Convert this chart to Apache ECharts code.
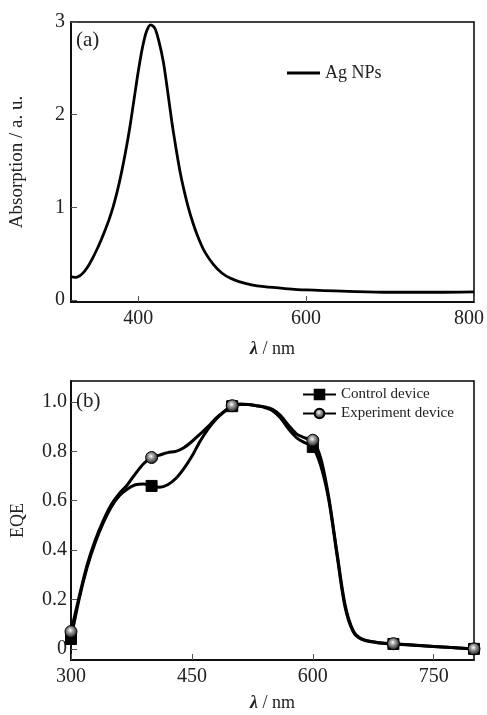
<!DOCTYPE html>
<html>
<head>
<meta charset="utf-8">
<script src="https://cdn.jsdelivr.net/npm/echarts@6/dist/echarts.min.js"></script>
<style>html,body{margin:0;padding:0;background:#fff;}#c{width:487px;height:715px;}</style>
</head>
<body>
<div id="c"></div>
<script>
// (a) Ag NPs absorption
const absWavelengths = [320,325,330,335,340,345,350,355,360,365,370,375,380,385,390,395,400,405,410,415,420,425,430,435,440,445,450,455,460,465,470,475,480,490,500,510,520,535,550,575,600,650,700,750,800];
const absValues      = [0.25,0.245,0.26,0.30,0.36,0.44,0.53,0.63,0.74,0.86,1.0,1.17,1.37,1.6,1.86,2.16,2.46,2.72,2.9,2.97,2.93,2.78,2.57,2.26,1.93,1.64,1.38,1.17,0.99,0.84,0.71,0.6,0.51,0.38,0.29,0.235,0.2,0.165,0.145,0.125,0.11,0.095,0.085,0.085,0.09];
const absXTicks = [400,600,800];
const absYTicks = [0,1,2,3];

// (b) EQE
const eqeWavelengths = [300,310,320,330,340,350,360,370,380,390,400,410,420,430,440,450,460,470,480,490,500,510,520,530,540,550,560,570,580,590,600,610,620,630,640,650,660,680,700,750,800];
const controlEQE     = [0.04,0.2,0.33,0.43,0.51,0.575,0.62,0.648,0.665,0.668,0.66,0.655,0.665,0.69,0.73,0.78,0.84,0.89,0.93,0.96,0.983,0.99,0.99,0.985,0.978,0.965,0.935,0.89,0.855,0.835,0.818,0.74,0.6,0.38,0.17,0.07,0.04,0.025,0.02,0.01,0.0];
const experimentEQE  = [0.07,0.21,0.34,0.44,0.52,0.585,0.63,0.665,0.71,0.75,0.775,0.785,0.795,0.80,0.815,0.84,0.87,0.9,0.935,0.962,0.985,0.992,0.99,0.985,0.98,0.97,0.945,0.905,0.87,0.855,0.845,0.77,0.61,0.39,0.18,0.075,0.042,0.026,0.021,0.01,0.0];
const eqeMarkerWavelengths = [300,400,500,600,700,800];
const eqeXTicks = [300,450,600,750];
const eqeYTicks = [0,0.2,0.4,0.6,0.8,1.0];

const FONT = '"Liberation Serif", "DejaVu Serif", serif';
const markerSet = new Set(eqeMarkerWavelengths);
function toData(vals){
  return eqeWavelengths.map((w,i)=> markerSet.has(w) ? [w, vals[i]] : {value:[w, vals[i]], symbol:'none'});
}
const chart = echarts.init(document.getElementById('c'), null, {renderer:'canvas'});
const axisLabel = {color:'#222', fontFamily:FONT, fontSize:20};
const tick = {inside:true, length:6, lineStyle:{color:'#555', width:1}};
const nameStyle = {fontFamily:FONT, fontSize:18, color:'#222', rich:{i:{fontStyle:'italic', fontWeight:'bold', fontFamily:FONT, fontSize:18}}};
const option = {
  animation:false,
  backgroundColor:'#fff',
  grid:[
    {left:71, top:22, width:403, height:280, show:true, borderColor:'#000', borderWidth:1.5, backgroundColor:'transparent', outerBoundsMode:'none', containLabel:false},
    {left:71, top:381, width:403, height:279, show:true, borderColor:'#000', borderWidth:1.5, backgroundColor:'transparent', outerBoundsMode:'none', containLabel:false}
  ],
  xAxis:[
    {type:'value', gridIndex:0, min:320, max:800,
     axisLine:{onZero:false, lineStyle:{color:'#000', width:1.5}},
     axisTick:Object.assign({customValues:absXTicks}, tick),
     axisLabel:Object.assign({customValues:absXTicks, margin:7,
       formatter:v=> v===800 ? '{r|800}' : String(v),
       rich:{r:{fontFamily:FONT, fontSize:20, color:'#222', padding:[0,10,0,0]}}}, axisLabel),
     splitLine:{show:false},
     name:'{i|λ} / nm', nameLocation:'middle', nameGap:38, nameTextStyle:nameStyle
    },
    {type:'value', gridIndex:1, min:300, max:800,
     axisLine:{onZero:false, lineStyle:{color:'#000', width:1.5}},
     axisTick:Object.assign({customValues:eqeXTicks}, tick),
     axisLabel:Object.assign({customValues:eqeXTicks, margin:7}, axisLabel),
     splitLine:{show:false},
     name:'{i|λ} / nm', nameLocation:'middle', nameGap:34, nameTextStyle:nameStyle
    }
  ],
  yAxis:[
    {type:'value', gridIndex:0, min:-0.02, max:3,
     axisLine:{show:true, onZero:false, lineStyle:{color:'#000', width:1.5}},
     axisTick:Object.assign({customValues:absYTicks}, tick),
     axisLabel:Object.assign({customValues:absYTicks, margin:6}, axisLabel),
     splitLine:{show:false},
     name:'Absorption / a. u.', nameLocation:'middle', nameGap:44, nameRotate:90,
     nameTextStyle:{fontFamily:FONT, fontSize:19, color:'#222'}
    },
    {type:'value', gridIndex:1, min:-0.045, max:1.085,
     axisLine:{show:true, onZero:false, lineStyle:{color:'#000', width:1.5}},
     axisTick:Object.assign({customValues:eqeYTicks}, tick),
     axisLabel:Object.assign({customValues:eqeYTicks, margin:4, formatter:v=> v===0?'0':v.toFixed(1)}, axisLabel),
     splitLine:{show:false},
     name:'EQE', nameLocation:'middle', nameGap:44, nameRotate:90,
     nameTextStyle:{fontFamily:FONT, fontSize:18, color:'#222'}
    }
  ],
  legend:[
    {data:[{name:'Ag NPs', icon:'rect'}], left:287, top:64, padding:0, orient:'vertical', itemWidth:33, itemHeight:3, itemGap:6,
     textStyle:{fontFamily:FONT, fontSize:18, color:'#222'}},
    {data:['Control device','Experiment device'], left:302, top:387, padding:0, orient:'vertical', itemWidth:33, itemHeight:12, itemGap:4,
     textStyle:{fontFamily:FONT, fontSize:15, color:'#222'}}
  ],
  graphic:[
    {type:'text', left:76, top:30, style:{text:'(a)', fontFamily:FONT, fontSize:21, fill:'#222'}},
    {type:'text', left:76, top:391, style:{text:'(b)', fontFamily:FONT, fontSize:21, fill:'#222'}}
  ],
  series:[
    {name:'Ag NPs', type:'line', xAxisIndex:0, yAxisIndex:0, smooth:0.3, symbol:'none',
     data:absWavelengths.map((w,i)=>[w, absValues[i]]),
     lineStyle:{color:'#000', width:2.8}, itemStyle:{color:'#000'}},
    {name:'Control device', type:'line', xAxisIndex:1, yAxisIndex:1, smooth:0.3,
     symbol:'rect', symbolSize:11, showSymbol:true,
     data:toData(controlEQE),
     lineStyle:{color:'#000', width:3}, itemStyle:{color:'#000', borderColor:'#000', borderWidth:1}},
    {name:'Experiment device', type:'line', xAxisIndex:1, yAxisIndex:1, smooth:0.3,
     symbol:'circle', symbolSize:12, showSymbol:true,
     data:toData(experimentEQE),
     lineStyle:{color:'#000', width:3},
     itemStyle:{color:{type:'radial', x:0.45, y:0.4, r:0.6, colorStops:[{offset:0,color:'#ffffff'},{offset:0.35,color:'#9a9a9a'},{offset:1,color:'#111'}]}, borderColor:'#000', borderWidth:1}}
  ]
};
chart.setOption(option);
</script>
</body>
</html>
